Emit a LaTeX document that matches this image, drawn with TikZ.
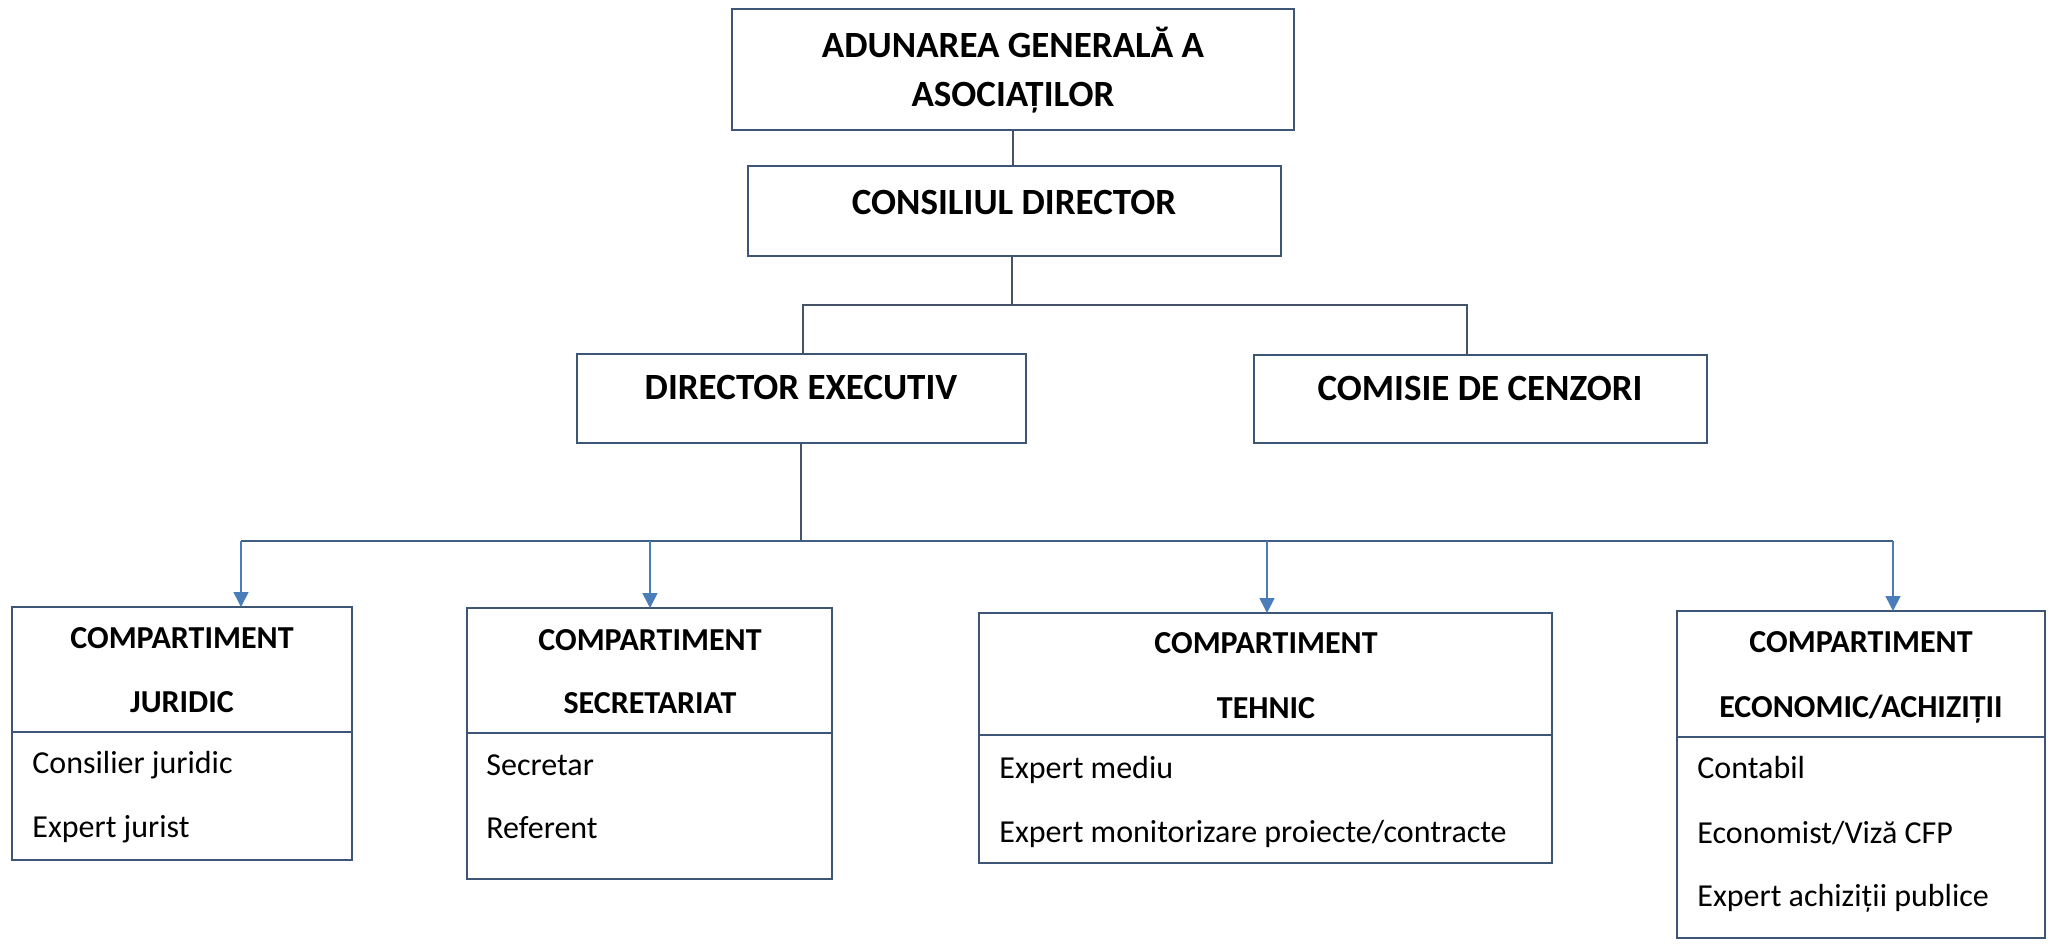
\documentclass[tikz,border=0pt]{standalone}
\usepackage{fontspec}
\setmainfont{Carlito}
\usetikzlibrary{arrows.meta}
\definecolor{boxc}{RGB}{62,86,118}
\definecolor{linec}{RGB}{70,82,104}
\definecolor{arrc}{RGB}{74,126,187}
\begin{document}
\begin{tikzpicture}[x=0.5pt,y=-0.5pt,
  box/.style={draw=boxc,line width=1.4pt,rectangle,inner sep=0pt,outer sep=0pt,anchor=north west},
  hd/.style={anchor=base,inner sep=0pt,font=\fontsize{16pt}{19pt}\selectfont\bfseries},
  th/.style={anchor=base,inner sep=0pt,font=\fontsize{18.5pt}{22pt}\selectfont\bfseries},
  bd/.style={anchor=base west,inner sep=0pt,font=\fontsize{16pt}{19pt}\selectfont},
  con/.style={draw=linec,line width=0.8pt},
  hcon/.style={draw=boxc!80!arrc,line width=1.1pt},
  arr/.style={draw=arrc,line width=0.8pt,-{Triangle[width=7.5pt,length=7.5pt]}},
  dv/.style={draw=boxc,line width=1.4pt}]
\useasboundingbox[fill=white] (0,0) rectangle (2051,943);

% boxes
\node[box,minimum width=281pt,minimum height=60.5pt] (A) at (732,9) {};
\node[box,minimum width=266.5pt,minimum height=45pt] (C) at (748,166) {};
\node[box,minimum width=224.5pt,minimum height=44.5pt] (DE) at (577,354) {};
\node[box,minimum width=226.5pt,minimum height=44pt] (CC) at (1254,355) {};
\node[box,minimum width=170pt,minimum height=126.5pt] (J) at (12,607) {};
\node[box,minimum width=182.5pt,minimum height=135.5pt] (S) at (467,608) {};
\node[box,minimum width=286.5pt,minimum height=125pt] (T) at (979,613) {};
\node[box,minimum width=184pt,minimum height=163.5pt] (E) at (1677,611) {};

% texts
\node[th] (A1) at (1013,57) {ADUNAREA GENERALĂ A};
\node[th] (A2) at (1013,106) {ASOCIAȚILOR};
\node[th] (C1) at (1014,214) {CONSILIUL DIRECTOR};
\node[th] (D1) at (801,399) {DIRECTOR EXECUTIV};
\node[th] (CC1) at (1480,400) {COMISIE DE CENZORI};

\node[hd] (J1) at (182,648) {COMPARTIMENT};
\node[hd] (J2) at (182,712) {JURIDIC};
\node[bd] (J3) at (32,773) {Consilier juridic};
\node[bd] (J4) at (32,837) {Expert jurist};

\node[hd] (S1) at (650,650) {COMPARTIMENT};
\node[hd] (S2) at (650,713) {SECRETARIAT};
\node[bd] (S3) at (486,775) {Secretar};
\node[bd] (S4) at (486,838) {Referent};

\node[hd] (T1) at (1266,653) {COMPARTIMENT};
\node[hd] (T2) at (1266,718) {TEHNIC};
\node[bd] (T3) at (999,778) {Expert mediu};
\node[bd] (T4) at (999,842) {Expert monitorizare proiecte/contracte};

\node[hd] (E1) at (1861,652) {COMPARTIMENT};
\node[hd] (E2) at (1861,717) {ECONOMIC/ACHIZIȚII};
\node[bd] (E3) at (1697,778) {Contabil};
\node[bd] (E4) at (1697,843) {Economist/Viză CFP};
\node[bd] (E5) at (1697,906) {Expert achiziții publice};

% dividers
\draw[dv] (J.west |- 0,732) -- (J.east |- 0,732);
\draw[dv] (S.west |- 0,733) -- (S.east |- 0,733);
\draw[dv] (T.west |- 0,735) -- (T.east |- 0,735);
\draw[dv] (E.west |- 0,737) -- (E.east |- 0,737);

% upper connectors
\draw[con] (A.south) -- (A.south |- C.north);
\coordinate (m) at (1012,305);
\coordinate (ml) at (803,305);
\coordinate (mr) at (1467,305);
\draw[con] (C.south -| m) -- (m);
\draw[con] (ml |- DE.north) -- (ml) -- (mr) -- (mr |- CC.north);

% lower connectors
\coordinate (b) at (801,541);
\coordinate (b1) at (241,541);
\coordinate (b2) at (650,541);
\coordinate (b3) at (1267,541);
\coordinate (b4) at (1893,541);
\draw[con] (DE.south -| b) -- (b);
\draw[hcon] (b1) -- (b4);
\draw[arr] (b1) -- (b1 |- J.north);
\draw[arr] (b2) -- (b2 |- S.north);
\draw[arr] (b3) -- (b3 |- T.north);
\draw[arr] (b4) -- (b4 |- E.north);
\end{tikzpicture}
\end{document}
